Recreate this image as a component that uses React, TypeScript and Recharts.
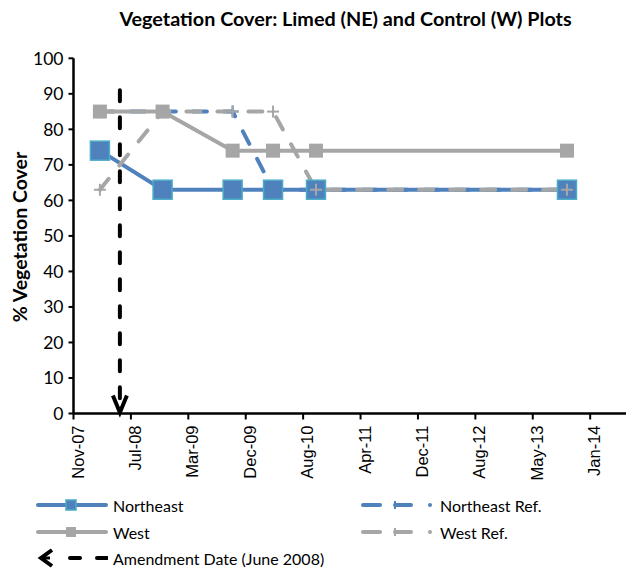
import React from 'react';
import { LineChart, Line, XAxis, YAxis } from 'recharts';

const axisStart = '2007-11-15';
const axisEnd = '2014-06-17';
const tickStep = 250;
const tickLabels = ['Nov-07', 'Jul-08', 'Mar-09', 'Dec-09', 'Aug-10', 'Apr-11', 'Dec-11', 'Aug-12', 'May-13', 'Jan-14'];
const yTicks = [0, 10, 20, 30, 40, 50, 60, 70, 80, 90, 100];

const sampleDates = ['2008-03-09', '2008-12-07', '2009-10-08', '2010-04-02', '2010-10-06', '2013-10-03'];
const northeast = [74, 63, 63, 63, 63, 63];
const west = [85, 85, 74, 74, 74, 74];
const northeastRef = [85, 85, 85, 63, 63, 63];
const westRef = [63, 85, 85, 85, 63, 63];

const amendmentDate = '2008-06-04';
const amendmentSpan = [91, 0];

const BLUE = '#4F81BD';
const TEAL = '#4BACC6';
const GRAY = '#A6A6A6';
const LATO = 'Lato, "Liberation Sans", sans-serif';

const dayOf = (d: string) => (Date.parse(d) - Date.parse(axisStart)) / 86400000;

const data = sampleDates.map((d, i) => ({
  x: dayOf(d),
  ne: northeast[i],
  w: west[i],
  neRef: northeastRef[i],
  wRef: westRef[i],
}));

const arrowData = amendmentSpan.map((v) => ({ x: dayOf(amendmentDate), y: v }));
const xTicks = tickLabels.map((_, i) => i * tickStep);

const Square = ({ cx, cy, size, fill, stroke }: any) => (
  <rect x={cx - size / 2} y={cy - size / 2} width={size} height={size} fill={fill} stroke={stroke || 'none'} strokeWidth={1.5} />
);

const Plus = ({ cx, cy, color }: any) => (
  <g stroke={color} strokeWidth={2}>
    <line x1={cx - 6} y1={cy} x2={cx + 6} y2={cy} />
    <line x1={cx} y1={cy - 6} x2={cx} y2={cy + 6} />
  </g>
);

const ArrowHead = (props: any) => {
  const { cx, cy, index } = props;
  if (index !== arrowData.length - 1) return <g key={index} />;
  return (
    <path
      key={index}
      d={`M${cx - 7},${cy - 18} L${cx},${cy - 1} L${cx + 7},${cy - 18}`}
      fill="none"
      stroke="#000"
      strokeWidth={4}
      strokeLinejoin="miter"
    />
  );
};

const XTick = ({ x, y, payload }: any) => {
  const label = tickLabels[Math.round(payload.value / tickStep)];
  const tx = x + 4;
  const ty = y + 4;
  return (
    <text
      x={tx}
      y={ty}
      transform={`rotate(-90, ${tx}, ${ty})`}
      textAnchor="end"
      dominantBaseline="central"
      fontSize={16.5}
      fontFamily='"Liberation Sans", Arial, sans-serif'
      fill="#000"
    >
      {label}
    </text>
  );
};

const LegendRow = ({ top, left, icon, label }: any) => (
  <div style={{ position: 'absolute', top: top - 12, left, height: 24, display: 'flex', alignItems: 'center' }}>
    {icon}
    <span style={{ fontFamily: LATO, fontSize: 16, color: '#000', marginLeft: 5, whiteSpace: 'nowrap' }}>{label}</span>
  </div>
);

const SolidIcon = ({ color, marker, border }: any) => (
  <svg width={72} height={24}>
    <line x1={2} y1={12} x2={70} y2={12} stroke={color} strokeWidth={4} strokeLinecap="round" />
    <rect x={30} y={7} width={10} height={10} fill={marker} stroke={border || 'none'} strokeWidth={1.5} />
  </svg>
);

const DashIcon = ({ color }: any) => (
  <svg width={74} height={24}>
    <line x1={2} y1={12} x2={19} y2={12} stroke={color} strokeWidth={4} strokeLinecap="round" />
    <line x1={34} y1={12} x2={50} y2={12} stroke={color} strokeWidth={4} strokeLinecap="round" />
    <line x1={34} y1={8} x2={34} y2={16} stroke={color} strokeWidth={2} />
    <circle cx={69} cy={12} r={2} fill={color} />
  </svg>
);

const ArrowIcon = () => (
  <svg width={72} height={24}>
    <path d="M16,4 L5,12 L16,20" fill="none" stroke="#000" strokeWidth={4} />
    <line x1={5} y1={12} x2={14} y2={12} stroke="#000" strokeWidth={3} />
    <line x1={34} y1={12} x2={44} y2={12} stroke="#000" strokeWidth={4} strokeLinecap="round" />
    <line x1={61} y1={12} x2={71} y2={12} stroke="#000" strokeWidth={4} strokeLinecap="round" />
  </svg>
);

export default function App() {
  return (
    <div style={{ position: 'absolute', left: 0, top: 0, width: 631, height: 571, background: '#fff' }}>
      <div
        style={{
          position: 'absolute',
          left: 345.5,
          top: 7,
          transform: 'translateX(-50%)',
          whiteSpace: 'nowrap',
          fontFamily: LATO,
          fontWeight: 700,
          fontSize: 19.8,
          lineHeight: '22px',
        }}
      >
        Vegetation Cover: Limed (NE) and Control (W) Plots
      </div>
      <div
        style={{
          position: 'absolute',
          left: 19,
          top: 237,
          transform: 'translate(-50%, -50%) rotate(-90deg)',
          whiteSpace: 'nowrap',
          fontFamily: LATO,
          fontWeight: 700,
          fontSize: 19.5,
        }}
      >
        % Vegetation Cover
      </div>

      <LineChart width={631} height={480} data={data} margin={{ top: 58.3, right: 5, bottom: 6.5, left: 13.5 }}>
        <XAxis
          dataKey="x"
          type="number"
          domain={[0, dayOf(axisEnd)]}
          ticks={xTicks}
          interval={0}
          tick={<XTick />}
          tickSize={6}
          height={60}
          axisLine={{ stroke: '#000', strokeWidth: 2.5 }}
          tickLine={{ stroke: '#000', strokeWidth: 2 }}
          allowDataOverflow
        />
        <YAxis
          type="number"
          domain={[0, 100]}
          ticks={yTicks}
          interval={0}
          width={60}
          tickSize={5}
          tickMargin={5}
          tick={{ fontSize: 17.5, fontFamily: LATO, fill: '#000' }}
          axisLine={{ stroke: '#000', strokeWidth: 2.5 }}
          tickLine={{ stroke: '#000', strokeWidth: 2 }}
        />
        <Line
          data={arrowData}
          dataKey="y"
          stroke="#000"
          strokeWidth={4}
          strokeDasharray="11 16"
          strokeLinecap="round"
          dot={ArrowHead}
          activeDot={false}
          isAnimationActive={false}
          legendType="none"
        />
        <Line
          dataKey="neRef"
          stroke={BLUE}
          strokeWidth={4}
          strokeDasharray="14 17"
          strokeLinecap="round"
          dot={(p: any) => <Plus key={p.index} cx={p.cx} cy={p.cy} color={BLUE} />}
          activeDot={false}
          isAnimationActive={false}
        />
        <Line
          dataKey="ne"
          stroke={BLUE}
          strokeWidth={4}
          dot={(p: any) => <Square key={p.index} cx={p.cx} cy={p.cy} size={19} fill={BLUE} stroke={TEAL} />}
          activeDot={false}
          isAnimationActive={false}
        />
        <Line
          dataKey="wRef"
          stroke={GRAY}
          strokeWidth={4}
          strokeDasharray="14 17"
          strokeLinecap="round"
          dot={(p: any) => <Plus key={p.index} cx={p.cx} cy={p.cy} color={GRAY} />}
          activeDot={false}
          isAnimationActive={false}
        />
        <Line
          dataKey="w"
          stroke={GRAY}
          strokeWidth={4}
          dot={(p: any) => <Square key={p.index} cx={p.cx} cy={p.cy} size={14} fill={GRAY} />}
          activeDot={false}
          isAnimationActive={false}
        />
      </LineChart>

      <LegendRow top={505} left={36} icon={<SolidIcon color={BLUE} marker={BLUE} border={TEAL} />} label="Northeast" />
      <LegendRow top={532} left={36} icon={<SolidIcon color={GRAY} marker={GRAY} />} label="West" />
      <LegendRow top={558} left={36} icon={<ArrowIcon />} label="Amendment Date (June 2008)" />
      <LegendRow top={505} left={361} icon={<DashIcon color={BLUE} />} label="Northeast Ref." />
      <LegendRow top={532} left={361} icon={<DashIcon color={GRAY} />} label="West Ref." />
    </div>
  );
}
